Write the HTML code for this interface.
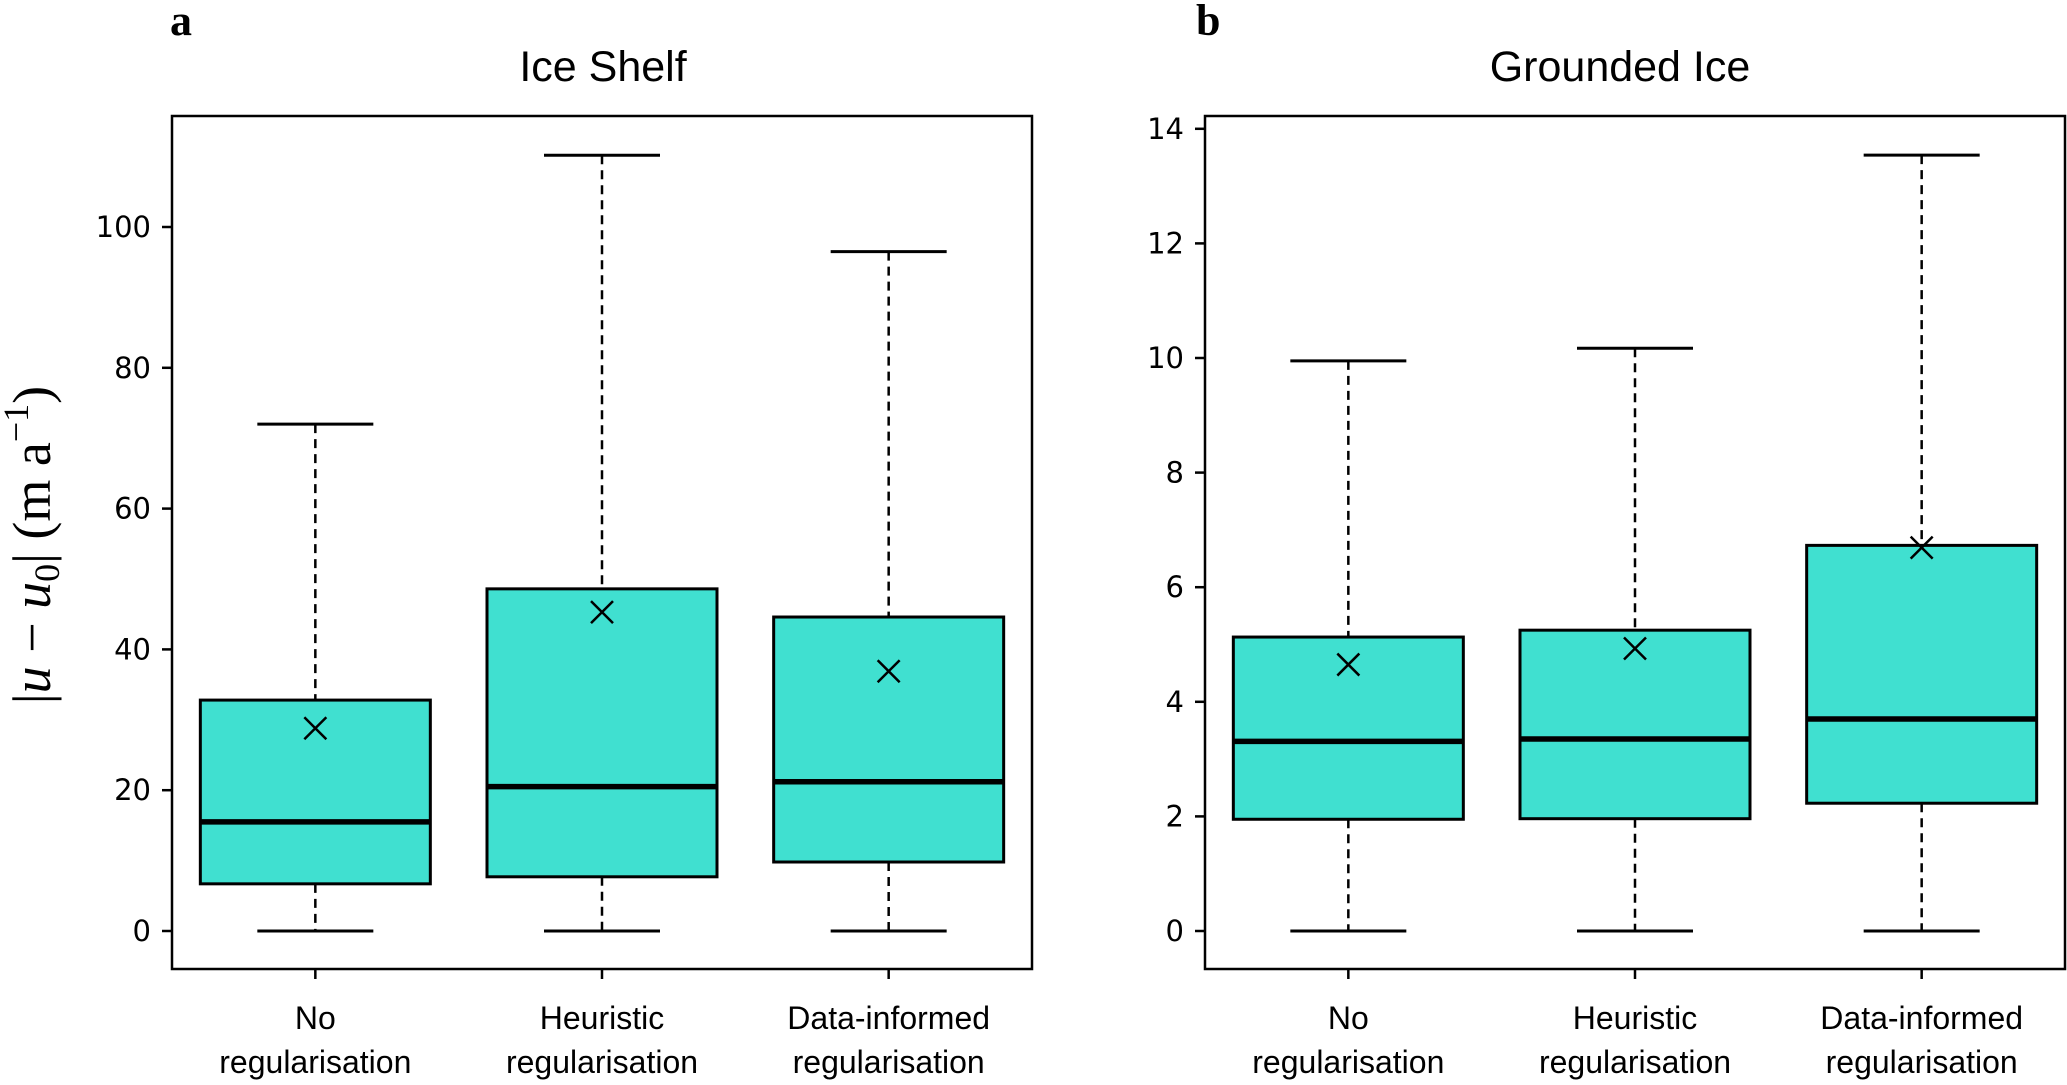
<!DOCTYPE html>
<html><head><meta charset="utf-8"><style>
html,body{margin:0;padding:0;background:#fff;}
svg{display:block;}
.tick{font-family:"DejaVu Sans","Liberation Sans",sans-serif;font-size:29px;fill:#000;}
.cat{font-family:"Liberation Sans",sans-serif;font-size:32px;fill:#000;}
.title{font-family:"Liberation Sans",sans-serif;font-size:43px;fill:#000;}
.letter{font-family:"Liberation Serif",serif;font-size:44px;font-weight:bold;fill:#000;}
</style></head><body>
<svg id="chart" width="2067" height="1085" viewBox="0 0 2067 1085" xmlns="http://www.w3.org/2000/svg">
<text class="letter" x="170" y="35">a</text>
<text class="letter" x="1196" y="35">b</text>
<text class="title" x="603" y="81" text-anchor="middle">Ice Shelf</text>
<text class="title" x="1620" y="81" text-anchor="middle">Grounded Ice</text>
<text transform="translate(50,545) rotate(-90)" text-anchor="middle" font-family="Liberation Serif, serif" font-size="54">|<tspan font-style="italic">u</tspan> − <tspan font-style="italic">u</tspan><tspan font-size="36" dy="9">0</tspan><tspan dy="-9">| (m a</tspan><tspan font-size="36" dy="-22">−1</tspan><tspan dy="22">)</tspan></text>
<g id="pa"></g>
<g id="pb"></g>
</svg>
<script>
const categories = [["No","regularisation"],["Heuristic","regularisation"],["Data-informed","regularisation"]];
const shelfQ1 = [6.7, 7.7, 9.8];
const shelfMedian = [15.5, 20.5, 21.2];
const shelfQ3 = [32.8, 48.6, 44.6];
const shelfMean = [28.8, 45.3, 36.9];
const shelfLow = [0, 0, 0];
const shelfHigh = [72, 110.2, 96.5];
const shelfTicks = [0, 20, 40, 60, 80, 100];
const groundQ1 = [1.95, 1.96, 2.23];
const groundMedian = [3.31, 3.35, 3.70];
const groundQ3 = [5.13, 5.25, 6.73];
const groundMean = [4.65, 4.93, 6.69];
const groundLow = [0, 0, 0];
const groundHigh = [9.95, 10.17, 13.54];
const groundTicks = [0, 2, 4, 6, 8, 10, 12, 14];

const NS = "http://www.w3.org/2000/svg";
function mk(parent, tag, attrs){const e=document.createElementNS(NS,tag);for(const k in attrs)e.setAttribute(k,attrs[k]);parent.appendChild(e);return e;}

function panel(g, left, yPerUnit, q1, med, q3, mean, lo, hi, ticks, key){
  const top=116, bottom=969, right=left+860, y0=931;
  const x = i => left + (i+0.5)*(860/3);
  const y = v => y0 - v*yPerUnit;
  ticks.forEach(t=>{
    const tl=mk(g,'line',{x1:left-10,x2:left,y1:y(t),y2:y(t),stroke:'#000','stroke-width':2.5});
    
    
    const tx=mk(g,'text',{x:left-21,y:y(t)+10,'text-anchor':'end',class:'tick'});
    tx.textContent=t;
    
    
  });
  categories.forEach((c,i)=>{
    const cx=x(i);
    const w1=mk(g,'line',{x1:cx,x2:cx,y1:y(hi[i]),y2:y(q3[i]),stroke:'#000','stroke-width':2.5,'stroke-dasharray':'9,6'});
    
    
    const w2=mk(g,'line',{x1:cx,x2:cx,y1:y(q1[i]),y2:y(lo[i]),stroke:'#000','stroke-width':2.5,'stroke-dasharray':'9,6'});
    
    
    const c1=mk(g,'line',{x1:cx-58,x2:cx+58,y1:y(hi[i]),y2:y(hi[i]),stroke:'#000','stroke-width':3});
    
    
    const c2=mk(g,'line',{x1:cx-58,x2:cx+58,y1:y(lo[i]),y2:y(lo[i]),stroke:'#000','stroke-width':3});
    
    
    const b=mk(g,'rect',{x:cx-115,y:y(q3[i]),width:230,height:y(q1[i])-y(q3[i]),fill:'#40e0d0',stroke:'#000','stroke-width':3});
    
    
    const m=mk(g,'line',{x1:cx-115,x2:cx+115,y1:y(med[i]),y2:y(med[i]),stroke:'#000','stroke-width':5.5});
    
    
    const my=y(mean[i]);
    const mm=mk(g,'path',{d:`M${cx-11},${my-11}L${cx+11},${my+11}M${cx-11},${my+11}L${cx+11},${my-11}`,stroke:'#000','stroke-width':2.5,fill:'none'});
    
    
    const xt=mk(g,'line',{x1:cx,x2:cx,y1:bottom,y2:bottom+10,stroke:'#000','stroke-width':2.5});
    
    
    const l1=mk(g,'text',{x:cx,y:1029,'text-anchor':'middle',class:'cat'});
    l1.textContent=c[0];
    
    
    const l2=mk(g,'text',{x:cx,y:1073,'text-anchor':'middle',class:'cat'});
    l2.textContent=c[1];
    
    
  });
  const fr=mk(g,'rect',{x:left,y:top,width:860,height:bottom-top,fill:'none',stroke:'#000','stroke-width':2.5});
  
  
}
panel(document.getElementById('pa'),172,7.04,shelfQ1,shelfMedian,shelfQ3,shelfMean,shelfLow,shelfHigh,shelfTicks,'shelf');
panel(document.getElementById('pb'),1205,57.3,groundQ1,groundMedian,groundQ3,groundMean,groundLow,groundHigh,groundTicks,'grounded');
</script>
</body></html>
